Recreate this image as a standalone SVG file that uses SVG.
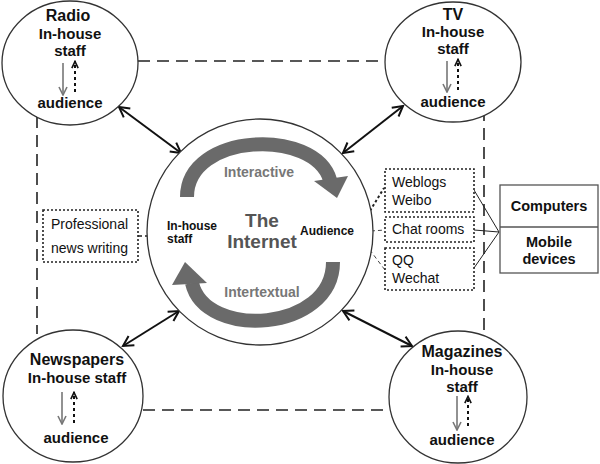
<svg xmlns="http://www.w3.org/2000/svg" width="600" height="464" viewBox="0 0 600 464">
<style>
text{font-family:"Liberation Sans",Arial,sans-serif;fill:#111}
.b{font-weight:bold}
.t{font-size:16px;font-weight:bold;text-anchor:middle}
.s{font-size:15px;font-weight:bold;text-anchor:middle}
.r{font-size:14px}
.ell{fill:#fff;stroke:#333;stroke-width:1.3}
.dash{stroke:#222;stroke-width:1.6;stroke-dasharray:12 7;fill:none}
.dotbox{fill:#fff;stroke:#222;stroke-width:1.6;stroke-dasharray:2 2}
.dbl{stroke:#111;stroke-width:2;fill:none;marker-start:url(#big);marker-end:url(#big)}
.down{stroke:#777;stroke-width:1.6;fill:none;marker-end:url(#gh)}
.up{stroke:#111;stroke-width:2;stroke-dasharray:3 3;fill:none;marker-end:url(#bh)}
.band{stroke:#6a6a6a;stroke-width:14;fill:none}
.thin{stroke:#222;stroke-width:1;fill:none}
</style>
<defs>
<marker id="big" viewBox="0 0 14 14" refX="12" refY="7" markerWidth="14" markerHeight="14" markerUnits="userSpaceOnUse" orient="auto-start-reverse"><path d="M2,1.5 L12,7 L2,12.5" fill="none" stroke="#111" stroke-width="2"/></marker>
<marker id="gh" viewBox="0 0 10 10" refX="9" refY="5" markerWidth="10" markerHeight="10" markerUnits="userSpaceOnUse" orient="auto"><path d="M1,1 L9,5 L1,9" fill="none" stroke="#777" stroke-width="1.6"/></marker>
<marker id="bh" viewBox="0 0 10 10" refX="9" refY="5" markerWidth="9" markerHeight="9" markerUnits="userSpaceOnUse" orient="auto"><path d="M1,1.5 L8.5,5 L1,8.5" fill="none" stroke="#111" stroke-width="1.8"/></marker>
</defs>
<rect width="600" height="464" fill="#fff"/>
<g id="connectors">
<line class="dash" x1="138" y1="61" x2="386" y2="61"/>
<line class="dash" x1="37" y1="116" x2="37" y2="334"/>
<line class="dash" x1="484" y1="109" x2="484" y2="332"/>
<line class="dash" x1="143" y1="410" x2="389" y2="410"/>
<line class="dbl" x1="119" y1="107" x2="181" y2="153"/>
<line class="dbl" x1="403" y1="106" x2="343" y2="153"/>
<line class="dbl" x1="123" y1="346" x2="179" y2="311"/>
<line class="dbl" x1="412" y1="346" x2="343" y2="311"/>
<line x1="138" y1="236" x2="165" y2="236" stroke="#222" stroke-width="1.6" stroke-dasharray="4 3"/>
<line x1="357" y1="232" x2="384" y2="188" stroke="#222" stroke-width="2" stroke-dasharray="2.5 2.5"/>
<line x1="357" y1="232" x2="385" y2="230" stroke="#444" stroke-width="1" stroke-dasharray="4 3"/>
<line x1="357" y1="233" x2="385" y2="270" stroke="#444" stroke-width="1" stroke-dasharray="4 3"/>
<line class="thin" x1="474" y1="190" x2="499" y2="232"/>
<line class="thin" x1="474" y1="230" x2="499" y2="232"/>
<line class="thin" x1="474" y1="268" x2="499" y2="232"/>
</g>
<g id="radio">
<ellipse class="ell" cx="70" cy="63" rx="68" ry="62"/>
<text class="t" x="68" y="21">Radio</text>
<text class="s" x="70" y="39">In-house</text>
<text class="s" x="70" y="56">staff</text>
<line class="down" x1="63" y1="63" x2="63" y2="95"/>
<line class="up" x1="75" y1="92" x2="75" y2="61"/>
<text class="s" x="70" y="108">audience</text>
</g>
<g id="tv">
<ellipse class="ell" cx="453" cy="62" rx="68" ry="60"/>
<text class="t" x="453" y="20">TV</text>
<text class="s" x="453" y="37">In-house</text>
<text class="s" x="453" y="54">staff</text>
<line class="down" x1="447" y1="61" x2="447" y2="92"/>
<line class="up" x1="458" y1="90" x2="458" y2="59"/>
<text class="s" x="453" y="107">audience</text>
</g>
<g id="newspapers">
<ellipse class="ell" cx="73" cy="396" rx="70" ry="66"/>
<text class="t" x="77" y="365">Newspapers</text>
<text class="s" x="77" y="383">In-house staff</text>
<line class="down" x1="62" y1="392" x2="62" y2="424"/>
<line class="up" x1="74" y1="423" x2="74" y2="392"/>
<text class="s" x="76" y="443">audience</text>
</g>
<g id="magazines">
<ellipse class="ell" cx="458" cy="397" rx="69" ry="66"/>
<text class="t" x="462" y="357">Magazines</text>
<text class="s" x="462" y="375">In-house</text>
<text class="s" x="462" y="392">staff</text>
<line class="down" x1="457" y1="396" x2="457" y2="430"/>
<line class="up" x1="468" y1="426" x2="468" y2="396"/>
<text class="s" x="462" y="445">audience</text>
</g>
<g id="internet">
<circle class="ell" cx="260" cy="232" r="113"/>
<path class="band" d="M187,197 C187,132 315,128 330,180"/>
<polygon points="314,181 348,176 337,198" fill="#6a6a6a"/>
<path class="band" d="M333,262 C333,332 205,340 192,283"/>
<polygon points="172,285 207,283 185,262" fill="#6a6a6a"/>
<text class="b" x="259" y="177" style="font-size:14px;fill:#777;text-anchor:middle">Interactive</text>
<text class="b" x="262" y="297" style="font-size:14px;fill:#777;text-anchor:middle">Intertextual</text>
<text class="b" x="262" y="227" style="font-size:19px;fill:#555;text-anchor:middle">The</text>
<text class="b" x="262" y="248" style="font-size:19px;fill:#555;text-anchor:middle">Internet</text>
<text class="b" x="167" y="230" style="font-size:12px">In-house</text>
<text class="b" x="167" y="243" style="font-size:12px">staff</text>
<text class="b" x="300" y="235" style="font-size:12px">Audience</text>
</g>
<g id="professional">
<rect class="dotbox" x="43" y="210" width="95" height="52"/>
<text class="r" x="51" y="229">Professional</text>
<text class="r" x="51" y="253">news writing</text>
</g>
<g id="weblogs">
<rect class="dotbox" x="385" y="169" width="89" height="43"/>
<text class="r" x="392" y="187">Weblogs</text>
<text class="r" x="392" y="205">Weibo</text>
</g>
<g id="chatrooms">
<rect class="dotbox" x="385" y="217" width="89" height="25"/>
<text class="r" x="392" y="234">Chat rooms</text>
</g>
<g id="qq">
<rect class="dotbox" x="385" y="248" width="89" height="42"/>
<text class="r" x="392" y="265">QQ</text>
<text class="r" x="392" y="283">Wechat</text>
</g>
<g id="devices">
<rect x="500" y="185" width="98" height="88" fill="#fff" stroke="#555" stroke-width="1.3"/>
<line x1="500" y1="227" x2="598" y2="227" stroke="#555" stroke-width="1.3"/>
<text class="b" x="549" y="211" style="font-size:14.5px;text-anchor:middle">Computers</text>
<text class="b" x="549" y="247" style="font-size:14.5px;text-anchor:middle">Mobile</text>
<text class="b" x="549" y="264" style="font-size:14.5px;text-anchor:middle">devices</text>
</g>
</svg>
